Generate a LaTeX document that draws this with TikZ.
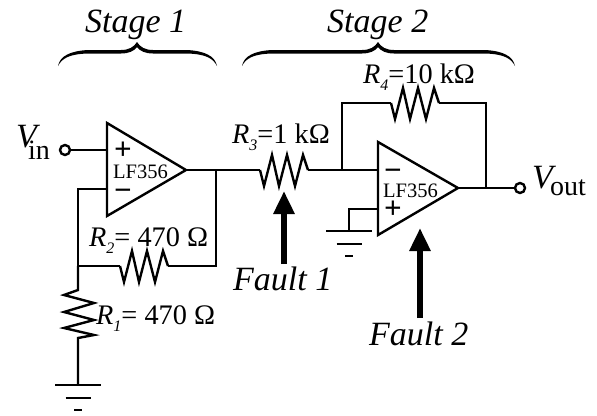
\documentclass[tikz,border=0pt]{standalone}
\usepackage{fontspec}
\setmainfont{Liberation Serif}
\usetikzlibrary{arrows.meta}

\newcommand{\rname}[1]{\textit{R}\raisebox{-7pt}{\fontsize{16}{16}\selectfont\textit{#1}}}

\tikzset{
	wire/.style={line width=2.4pt,line join=miter},
	terminal/.style={circle,draw,line width=2.4pt,fill=white,minimum size=10pt,inner sep=0pt},
	faultarrow/.style={line width=6pt,-{Triangle[width=20pt,length=23pt]}},
	txt/.style={anchor=base west,inner sep=0pt},
	stagetxt/.style={txt,font=\fontsize{34}{34}\selectfont\itshape},
	valtxt/.style={txt,font=\fontsize{28.3}{28.3}\selectfont},
	amptxt/.style={txt,font=\fontsize{20.5}{20.5}\selectfont},
	signtxt/.style={anchor=base,inner sep=0pt,font=\fontsize{31}{31}\selectfont\bfseries},
	pics/hres/.style={code={
		\draw[wire] (0,0) -- (4,16) -- (12,-15) -- (19,16) -- (27,-15) -- (35,16) -- (43,-15) -- (48,0);
	}},
	pics/gnd/.style={code={
		\draw[wire] (-23,0) -- (23,0);
		\draw[wire] (-12.5,13) -- (12.5,13);
		\draw[wire] (-4,25) -- (4,25);
	}},
}

\begin{document}
\begin{tikzpicture}[x=1pt,y=-1pt]
\useasboundingbox (0,0) rectangle (597,415);

% braces over the two stages
\foreach \xa/\xm/\xb in {58/137/217,242/378/515} {
	\fill (\xa,66) .. controls (\xa+2,56) and (\xa+12,51) .. (\xa+30,50)
		-- (\xm-16,50) .. controls (\xm-8,50) and (\xm-3,47) .. (\xm,42)
		.. controls (\xm+3,47) and (\xm+8,50) .. (\xm+16,50)
		-- (\xb-30,50) .. controls (\xb-12,51) and (\xb-2,56) .. (\xb,66)
		.. controls (\xb-4,58) and (\xb-12,54) .. (\xb-30,53.5)
		-- (\xm+16,53.5) .. controls (\xm+8,53.5) and (\xm+3,51) .. (\xm,47)
		.. controls (\xm-3,51) and (\xm-8,53.5) .. (\xm-16,53.5)
		-- (\xa+30,53.5) .. controls (\xa+12,54) and (\xa+4,58) .. (\xa,66) -- cycle;
}
\node[stagetxt] (stage1) at (85,32) {Stage 1};
\node[stagetxt] (stage2) at (327,32) {Stage 2};

% first amplifier
\coordinate (amp1a) at (107,123);
\coordinate (amp1b) at (107,216);
\coordinate (amp1out) at (186,170);
\draw[wire] (amp1a) -- (amp1b) -- (amp1out) -- cycle;
\node[amptxt] (amp1) at (113,178) {LF356};
\node[signtxt] (amp1p) at (123,159) {+};
\node[signtxt] (amp1m) at (123,200) {−};

\node[terminal] (vin) at (65,150) {};
\node[txt,font=\fontsize{34}{34}\selectfont\itshape] (vinv) at (16,147) {V};
\node[txt,font=\fontsize{28}{28}\selectfont] (vins) at (28,159) {in};
\coordinate (amp1pin) at (107,150);
\coordinate (amp1min) at (107,189);
\draw[wire] (vin) -- (amp1pin);

% feedback of the first amplifier
\coordinate (j1) at (78,266);
\coordinate (j2) at (216,170);
\coordinate (r2a) at (120,266);
\coordinate (r2b) at (168,266);
\coordinate (r2c) at (216,266);
\draw[wire] (amp1min) -- (78,189) -- (j1) -- (r2a);
\pic at (r2a) {hres};
\draw[wire] (r2b) -- (r2c) -- (j2);
\node[valtxt] (r2) at (89,246) {\rname{2}= 470 Ω};

\coordinate (r1a) at (78,290);
\coordinate (r1b) at (78,338);
\coordinate (g1) at (78,385);
\draw[wire] (j1) -- (r1a) -- (64,295) -- (94,303) -- (64,312) -- (94,320) -- (64,328) -- (94,335) -- (r1b) -- (g1);
\node[valtxt] (r1) at (96,324) {\rname{1}= 470 Ω};
\pic at (g1) {gnd};

% second stage
\coordinate (r3a) at (260,170);
\coordinate (r3b) at (308,170);
\coordinate (j3) at (342,170);
\coordinate (amp2min) at (378,170);
\draw[wire] (amp1out) -- (r3a);
\pic at (r3a) {hres};
\draw[wire] (r3b) -- (amp2min);
\node[valtxt] (r3) at (232,143) {\rname{3}=1 kΩ};

\coordinate (amp2a) at (378,142);
\coordinate (amp2b) at (378,235);
\coordinate (amp2out) at (458,188);
\draw[wire] (amp2a) -- (amp2b) -- (amp2out) -- cycle;
\node[amptxt] (amp2) at (383,197) {LF356};
\node[signtxt] (amp2m) at (393,180) {−};
\node[signtxt] (amp2p) at (393,218) {+};

\coordinate (amp2pin) at (378,209);
\coordinate (g2) at (349,231);
\draw[wire] (amp2pin) -| (g2);
\pic at (g2) {gnd};

\coordinate (r4a) at (391,103);
\coordinate (r4b) at (439,103);
\coordinate (r4c) at (486,103);
\coordinate (j4) at (486,188);
\draw[wire] (j3) |- (r4a);
\pic at (r4a) {hres};
\draw[wire] (r4b) -- (r4c) -- (j4);
\node[valtxt] (r4) at (363,83) {\rname{4}=10 kΩ};

\node[terminal] (vout) at (520,188) {};
\draw[wire] (amp2out) -- (vout);
\node[txt,font=\fontsize{34}{34}\selectfont\itshape] (voutv) at (532,188) {V};
\node[txt,font=\fontsize{28}{28}\selectfont] (vouts) at (550,195) {out};

% faults
\coordinate (f1tail) at (284,264);
\coordinate (f1tip) at (284,191);
\draw[faultarrow] (f1tail) -- (f1tip);
\node[stagetxt] (fault1) at (233,290) {Fault 1};
\coordinate (f2tail) at (420,318);
\coordinate (f2tip) at (420,228);
\draw[faultarrow] (f2tail) -- (f2tip);
\node[stagetxt] (fault2) at (369,345) {Fault 2};

\end{tikzpicture}
\end{document}
